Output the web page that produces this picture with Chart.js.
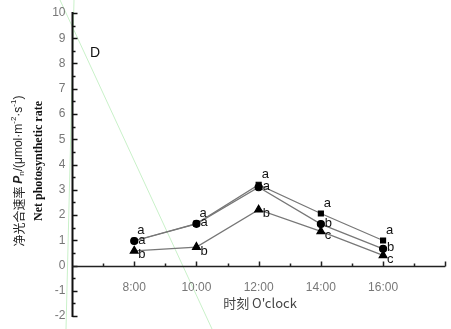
<!DOCTYPE html>
<html>
<head>
<meta charset="utf-8">
<script src="https://cdn.jsdelivr.net/npm/chart.js@4"></script>
<style>
  html, body { margin: 0; padding: 0; background: #fff; }
  #wrap { width: 451px; height: 329px; }
</style>
</head>
<body>
<div id="wrap"><canvas id="myChart"></canvas></div>
<script>
// Datos
const hours = [8, 10, 12, 14, 16];
const squareValues = [0.98, 1.66, 3.2, 2.06, 0.99];
const circleValues = [0.97, 1.65, 3.1, 1.64, 0.66];
const triangleValues = [0.58, 0.73, 2.21, 1.35, 0.40];
const squareLetters = ['a', 'a', 'a', 'a', 'a'];
const circleLetters = ['a', 'a', 'a', 'b', 'b'];
const triangleLetters = ['b', 'b', 'b', 'c', 'c'];
const xTickLabels = ['8:00', '10:00', '12:00', '14:00', '16:00'];
const yTicks = [-2, -1, 0, 1, 2, 3, 4, 5, 6, 7, 8, 9, 10];

const toPoints = (vals) => vals.map((v, i) => ({ x: hours[i], y: v }));

// Lineas verdes del escaneo (fondo)
const scanPlugin = {
    id: 'scanPlugin',
    beforeDraw(chart) {
        const ctx = chart.ctx;
        ctx.save();
        ctx.strokeStyle = '#c9f1c9';
        ctx.lineWidth = 1;
        ctx.beginPath();
        ctx.moveTo(60, 0); ctx.lineTo(212, 329);
        ctx.moveTo(74, 0); ctx.lineTo(66, 329);
        ctx.stroke();
        ctx.restore();
    }
};

// Ejes, letras y titulos dibujados a mano
const axesPlugin = {
    id: 'axesPlugin',
    afterDraw(chart) {
        const ctx = chart.ctx;
        const xs = chart.scales.x;
        const ys = chart.scales.y;
        const area = chart.chartArea;
        const left = Math.round(area.left) + 0.5;
        const y0 = Math.round(ys.getPixelForValue(0)) + 0.5;

        ctx.save();
        // eje Y
        ctx.strokeStyle = '#111';
        ctx.lineWidth = 2;
        ctx.beginPath();
        ctx.moveTo(left, area.top - 1);
        ctx.lineTo(left, area.bottom + 1);
        ctx.stroke();
        ctx.lineWidth = 1.5;
        ctx.beginPath();
        for (let v = -2; v <= 10; v += 0.5) {
            const py = Math.round(ys.getPixelForValue(v)) + 0.5;
            const len = Number.isInteger(v) ? 5 : 3;
            ctx.moveTo(left, py);
            ctx.lineTo(left + len, py);
        }
        ctx.stroke();

        ctx.fillStyle = '#777';
        ctx.font = '12px "Liberation Sans", Arial, sans-serif';
        ctx.textAlign = 'right';
        ctx.textBaseline = 'middle';
        yTicks.forEach(v => {
            ctx.fillText(String(v), left - 7, ys.getPixelForValue(v));
        });

        // eje X en y = 0
        ctx.strokeStyle = '#222';
        ctx.lineWidth = 1.5;
        ctx.beginPath();
        ctx.moveTo(left, y0);
        ctx.lineTo(area.right, y0);
        ctx.stroke();
        ctx.beginPath();
        for (let h = 7; h <= 18; h += 1) {
            const px = Math.round(xs.getPixelForValue(h)) + 0.5;
            const len = h % 2 === 0 ? 5 : 3;
            ctx.moveTo(px, y0);
            ctx.lineTo(px, y0 - len);
        }
        ctx.stroke();

        ctx.textAlign = 'center';
        xTickLabels.forEach((t, i) => {
            ctx.fillText(t, xs.getPixelForValue(hours[i]), y0 + 21);
        });

        // "D"
        ctx.fillStyle = '#111';
        ctx.font = '14px "Liberation Sans", Arial, sans-serif';
        ctx.textAlign = 'left';
        ctx.fillText('D', 90, 53);

        // letras de significancia
        ctx.font = '13px "Liberation Sans", Arial, sans-serif';
        const put = (vals, letters, dx, dy) => {
            vals.forEach((v, i) => {
                ctx.fillText(letters[i], xs.getPixelForValue(hours[i]) + dx, ys.getPixelForValue(v) + dy);
            });
        };
        put(squareValues, squareLetters, 3, -10);
        put(circleValues, circleLetters, 4, -1);
        put(triangleValues, triangleLetters, 4, 4);

        // titulo X
        ctx.fillStyle = '#444';
        ctx.font = '13px "Noto Sans CJK SC", sans-serif';
        ctx.textAlign = 'center';
        ctx.fillText('时刻 O\'clock', 260, 303);

        // titulo Y (dos lineas, rotadas)
        ctx.translate(19, 171);
        ctx.rotate(-Math.PI / 2);
        const parts = [
            ['净光合速率 ', '12px "Noto Sans CJK SC", sans-serif', 0],
            ['P', 'italic bold 12px "Liberation Sans", Arial, sans-serif', 0],
            ['n', '8px "Liberation Sans", Arial, sans-serif', 3],
            ['/(μmol·m', '12px "Liberation Sans", Arial, sans-serif', 0],
            ['-2', '8px "Liberation Sans", Arial, sans-serif', -5],
            ['·s', '12px "Liberation Sans", Arial, sans-serif', 0],
            ['-1', '8px "Liberation Sans", Arial, sans-serif', -5],
            [')', '12px "Liberation Sans", Arial, sans-serif', 0]
        ];
        let total = 0;
        parts.forEach(p => { ctx.font = p[1]; total += ctx.measureText(p[0]).width; });
        let cx = -total / 2;
        ctx.fillStyle = '#222';
        ctx.textAlign = 'left';
        parts.forEach(p => {
            ctx.font = p[1];
            ctx.fillText(p[0], cx, p[2]);
            cx += ctx.measureText(p[0]).width;
        });
        ctx.font = 'bold 12px "Liberation Serif", "Times New Roman", serif';
        ctx.textAlign = 'center';
        ctx.fillStyle = '#111';
        ctx.fillText('Net photosynthetic rate', 10, 20);
        ctx.restore();
    }
};

const lineStyle = {
    borderColor: '#777',
    borderWidth: 1.2,
    backgroundColor: '#000',
    pointBorderColor: '#000',
    pointBackgroundColor: '#000',
    tension: 0
};

const ctx = document.getElementById('myChart').getContext('2d');
new Chart(ctx, {
    type: 'line',
    data: {
        datasets: [
            { ...lineStyle, data: toPoints(triangleValues), pointStyle: 'triangle', pointRadius: 4.5 },
            { ...lineStyle, data: toPoints(circleValues), pointStyle: 'circle', pointRadius: 3.5 },
            { ...lineStyle, data: toPoints(squareValues), pointStyle: 'rect', pointRadius: 3.5 }
        ]
    },
    options: {
        responsive: true,
        maintainAspectRatio: false,
        animation: false,
        layout: { padding: { left: 72, right: 4, top: 13, bottom: 13 } },
        scales: {
            x: { type: 'linear', min: 6, max: 18, display: false },
            y: { type: 'linear', min: -2, max: 10, display: false }
        },
        plugins: {
            legend: { display: false },
            tooltip: { enabled: false }
        }
    },
    plugins: [scanPlugin, axesPlugin]
});
</script>
</body>
</html>
